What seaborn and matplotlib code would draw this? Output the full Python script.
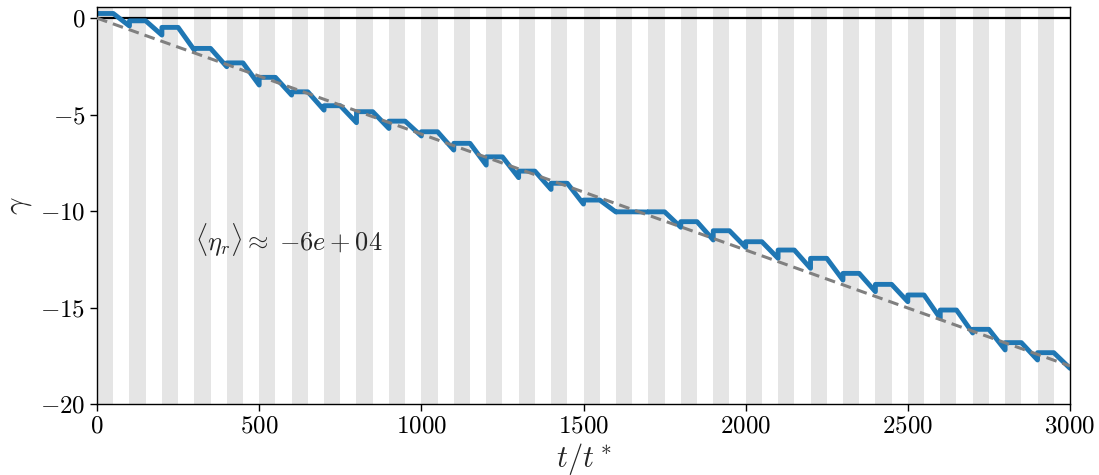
import numpy as np
import pandas as pd
import matplotlib
matplotlib.use("Agg")
import matplotlib.pyplot as plt
import seaborn as sns

# plateau level during each shaded window [100k, 100k+50]
plateau = [0.24, -0.14, -0.48, -1.57, -2.32, -3.07, -3.82, -4.54, -4.85, -5.34,
           -5.89, -6.49, -7.19, -7.93, -8.56, -9.43, -10.04, -10.04, -10.55, -11.02,
           -11.59, -12.02, -12.45, -13.23, -13.80, -14.35, -15.13, -16.13, -16.82, -17.34]
# value reached at the end of each white window (t = 100k+100)
dip = [-0.41, -0.88, -1.66, -2.52, -3.47, -3.99, -4.77, -5.42, -5.72, -6.11,
       -6.84, -7.62, -8.27, -8.88, -9.64, -10.05, -10.05, -10.84, -11.50, -11.88,
       -12.45, -12.97, -13.58, -14.18, -14.70, -15.56, -16.32, -17.20, -17.72, -18.15]
period = 100
window = 50
fit_t = [0, 3000]
fit_gamma = [0.0, -18.03]
eta_label = r"$\langle\eta_r\rangle \approx\; {-6}e + 04$"


def main():
    sns.set_style("ticks")
    plt.rcParams["font.family"] = "serif"
    plt.rcParams["font.serif"] = ["cmr10", "DejaVu Serif"]
    plt.rcParams["mathtext.fontset"] = "cm"
    plt.rcParams["axes.formatter.use_mathtext"] = True

    t, g = [], []
    for k, (p, d) in enumerate(zip(plateau, dip)):
        t += [k * period, k * period + window, (k + 1) * period]
        g += [p, p, d]
    df = pd.DataFrame({"t": t, "gamma": g})
    fit = pd.DataFrame({"t": fit_t, "gamma": fit_gamma})

    fig = plt.figure(figsize=(10.99, 4.75), dpi=100)
    ax = fig.add_axes([0.0883, 0.1495, 0.8853, 0.8355])

    for k in range(len(plateau)):
        ax.axvspan(k * period, k * period + window, color="#e5e5e5", lw=0, zorder=0)

    ax.axhline(0, color="black", lw=1.6, zorder=1)
    sns.lineplot(data=df, x="t", y="gamma", sort=False, estimator=None,
                 color="#1f77b4", lw=3.5, ax=ax, zorder=2)
    sns.lineplot(data=fit, x="t", y="gamma", color="gray", lw=2.2,
                 linestyle=(0, (3.5, 2)), ax=ax, zorder=3)

    ax.text(302, -11.5, eta_label, fontsize=19, va="center", ha="left")

    ax.set_xlim(0, 3000)
    ax.set_ylim(-20, 0.57)
    ax.set_xticks(range(0, 3001, 500))
    ax.set_yticks([0, -5, -10, -15, -20])
    ax.tick_params(labelsize=18, length=5, width=1, colors="black")
    ax.set_xlabel(r"$t/t^*$", fontsize=22, labelpad=2)
    ax.set_ylabel(r"$\gamma$", fontsize=22, labelpad=4)
    for s in ax.spines.values():
        s.set_color("black")
        s.set_linewidth(1)

    fig.savefig("out.png", dpi=100)


if __name__ == "__main__":
    main()
